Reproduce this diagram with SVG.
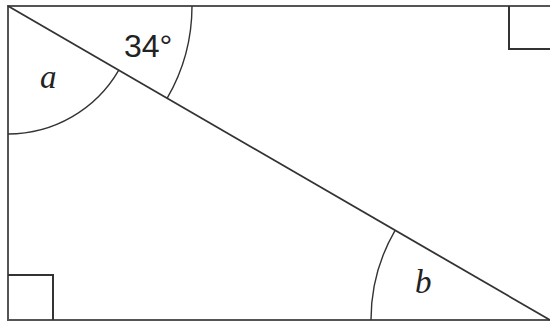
<svg xmlns="http://www.w3.org/2000/svg" width="550" height="324" viewBox="0 0 550 324">
<style>
.edge{fill:none;stroke:#555;stroke-width:2}
.diag{fill:none;stroke:#333;stroke-width:1.8}
.mark{fill:none;stroke:#333;stroke-width:2}
.arc{fill:none;stroke:#333;stroke-width:1.4}
.lbl{font-family:"Liberation Sans",Arial,sans-serif;font-size:32px;fill:#222}
.var{font-family:"Liberation Serif","Times New Roman",serif;font-style:italic;font-size:33px;fill:#222}
</style>
<rect width="550" height="324" fill="#fff"/>
<g id="rectangle">
<path class="edge" d="M550,6 H8 V320 H550"/>
</g>
<g id="right-angle-top">
<path class="mark" d="M509,6 V49 H550"/>
</g>
<g id="right-angle-bottom">
<path class="mark" d="M8,275 H53 V320"/>
</g>
<g id="connectors">
<path class="diag" d="M8,6 L550,320"/>
<path class="arc" d="M8,134 A128,128 0 0 0 118.8,70.2"/>
<path class="arc" d="M192,6 A184,184 0 0 1 167.2,98.2"/>
<path class="arc" d="M371,320 A179,179 0 0 1 395.1,230.3"/>
</g>
<g id="labels">
<text class="lbl" x="124" y="57">34°</text>
<text class="var" x="40" y="88">a</text>
<text class="var" x="415" y="293">b</text>
</g>
</svg>
